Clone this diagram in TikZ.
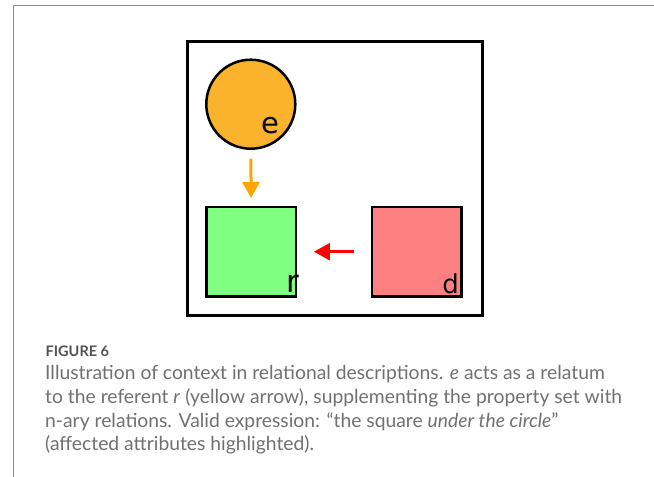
\documentclass[tikz,border=0pt]{standalone}
\usepackage{fontspec}
\setmainfont{Lato}
\newfontfamily\shapefont{DejaVu Sans}
\usetikzlibrary{arrows.meta}

\definecolor{circlefill}{RGB}{251,178,44}
\definecolor{refgreen}{RGB}{128,255,128}
\definecolor{distred}{RGB}{255,128,128}
\definecolor{relorange}{RGB}{255,165,0}
\definecolor{captiongray}{RGB}{112,112,112}
\definecolor{framegray}{RGB}{140,140,140}

\tikzset{
    obj/.style={draw=black, line width=2.5pt, inner sep=0pt},
    sq/.style={obj, rectangle, minimum size=89.5pt},
    tag/.style={inner sep=0pt, anchor=base east},
    rel/.style={line width=3pt, -{Triangle[length=16pt,width=17pt]}},
    caption/.style={inner sep=0pt, anchor=north west, align=left, text=captiongray}
}

\begin{document}
\begin{tikzpicture}[x=1pt,y=-1pt]
    \useasboundingbox (0,0) rectangle (654,477);

    % frame of the page
    \draw[framegray, line width=1.5pt] (13.5,477) -- (13.5,5.5) -- (654,5.5);

    % scene
    \node[draw, line width=2.5pt, inner sep=0pt, minimum width=294.8pt, minimum height=274pt] (scene) at (335.1,178.7) {};

    \node[obj, circle, fill=circlefill, minimum size=89pt] (e) at (250.8,104.2) {};
    \node[sq, fill=refgreen] (r) at (251.2,251.7) {};
    \node[sq, fill=distred] (d) at (416.7,251.7) {};

    \node[tag, font=\shapefont\fontsize{29}{29}\selectfont] (elabel) at (279.5,133.3) {e};
    \node[tag, font=\shapefont\fontsize{31}{31}\selectfont] (rlabel) at (299.5,292.7) {r};
    \node[tag, font=\shapefont\fontsize{26}{26}\selectfont] (dlabel) at (459,293.3) {d};

    \draw[rel, relorange, shorten <=8.6pt, shorten >=7.7pt] (e) -- (r);
    \draw[rel, red, line width=2.5pt, shorten <=16.3pt, shorten >=16.7pt] (d) -- (r);

    % caption
    \node[inner sep=0pt, anchor=base west, text=black!68, font=\bfseries\fontsize{14.5}{14.5}\selectfont] (fignum) at (45.5,356.7) {FIGURE 6};
    \node[caption, font=\fontsize{19.3}{23.6}\selectfont] (figcap) at (45,365.5) {%
        Illustration of context in relational descriptions. \textit{e} acts as a relatum\\
        to the referent \textit{r} (yellow arrow), supplementing the property set with\\
        n-ary relations. Valid expression: “the square \textit{under the circle}”\\
        (affected attributes highlighted).};
\end{tikzpicture}
\end{document}
